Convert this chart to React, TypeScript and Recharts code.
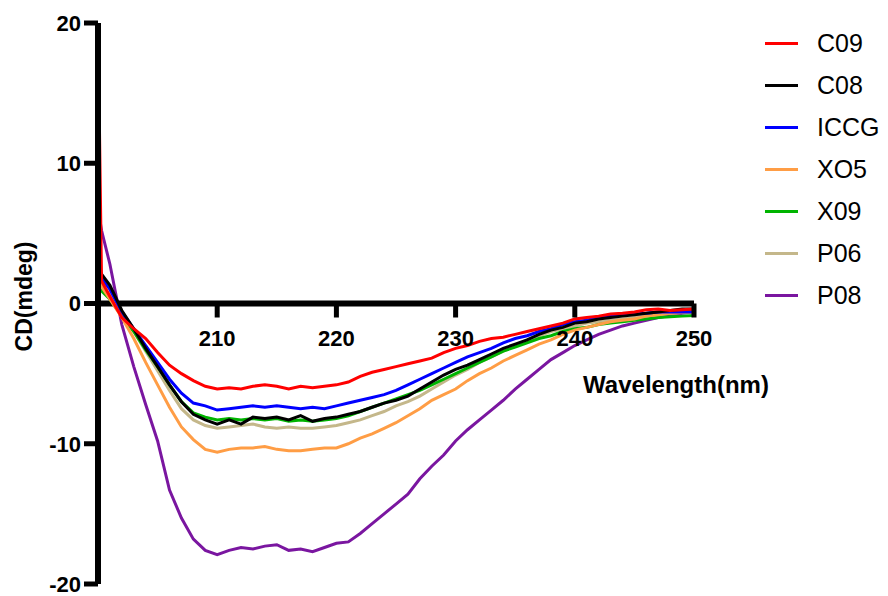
import React from "react";
import { LineChart, Line, XAxis, YAxis, ReferenceLine, Legend } from "recharts";

const WAVELENGTH = [
  200, 200.3, 201, 202, 203, 204, 205, 206, 207, 208, 209,
  210, 211, 212, 213, 214, 215, 216, 217, 218, 219,
  220, 221, 222, 223, 224, 225, 226, 227, 228, 229,
  230, 231, 232, 233, 234, 235, 236, 237, 238, 239,
  240, 241, 242, 243, 244, 245, 246, 247, 248, 249, 250,
];

const C09 = [
  20, 1.6, 0.5, -1.0, -1.8, -2.5, -3.5, -4.4, -5.0, -5.5, -5.9,
  -6.1, -6.0, -6.1, -5.9, -5.8, -5.9, -6.1, -5.9, -6.0, -5.9,
  -5.8, -5.6, -5.2, -4.9, -4.7, -4.5, -4.3, -4.1, -3.9, -3.5,
  -3.2, -3.0, -2.7, -2.5, -2.4, -2.2, -2.0, -1.8, -1.6, -1.4,
  -1.1, -1.0, -0.9, -0.75, -0.7, -0.6, -0.45, -0.4, -0.5, -0.45, -0.4,
];
const C08 = [
  2.6, 2.1, 1.3, -0.5, -1.8, -3.2, -4.5, -5.8, -7.0, -7.9, -8.3,
  -8.6, -8.3, -8.6, -8.1, -8.2, -8.1, -8.3, -8.0, -8.4, -8.2,
  -8.1, -7.9, -7.7, -7.4, -7.1, -6.9, -6.6, -6.1, -5.6, -5.1,
  -4.7, -4.4, -4.0, -3.6, -3.2, -2.9, -2.6, -2.2, -1.9, -1.7,
  -1.4, -1.3, -1.1, -1.0, -0.9, -0.8, -0.7, -0.6, -0.5, -0.4, -0.4,
];
const ICCG = [
  2.1, 1.8, 1.0, -0.6, -1.8, -3.0, -4.2, -5.4, -6.4, -7.1, -7.3,
  -7.6, -7.5, -7.4, -7.3, -7.4, -7.3, -7.4, -7.5, -7.4, -7.5,
  -7.3, -7.1, -6.9, -6.7, -6.5, -6.2, -5.8, -5.4, -5.0, -4.6,
  -4.2, -3.8, -3.5, -3.2, -2.8, -2.5, -2.3, -2.0, -1.8, -1.5,
  -1.3, -1.2, -1.0, -0.9, -0.8, -0.75, -0.7, -0.6, -0.6, -0.6, -0.6,
];
const XO5 = [
  1.5, 1.2, 0.3, -1.0, -2.5, -4.2, -5.8, -7.4, -8.8, -9.7, -10.4,
  -10.6, -10.4, -10.3, -10.3, -10.2, -10.4, -10.5, -10.5, -10.4, -10.3,
  -10.3, -10.0, -9.6, -9.3, -8.9, -8.5, -8.0, -7.5, -6.9, -6.5,
  -6.1, -5.5, -5.0, -4.6, -4.1, -3.7, -3.3, -2.9, -2.6, -2.2,
  -1.9, -1.7, -1.5, -1.3, -1.2, -1.1, -0.9, -0.8, -0.7, -0.65, -0.6,
];
const X09 = [
  1.2, 0.9, 0.3, -0.9, -2.0, -3.3, -4.5, -5.8, -7.0, -7.8, -8.1,
  -8.3, -8.2, -8.3, -8.2, -8.3, -8.2, -8.4, -8.3, -8.4, -8.3,
  -8.2, -8.0, -7.7, -7.4, -7.1, -6.8, -6.5, -6.2, -5.8, -5.4,
  -5.0, -4.6, -4.2, -3.8, -3.4, -3.1, -2.8, -2.5, -2.3, -2.0,
  -1.8, -1.7, -1.5, -1.4, -1.3, -1.2, -1.1, -1.0, -0.95, -0.9, -0.85,
];
const P06 = [
  1.8, 1.4, 0.6, -0.8, -2.0, -3.4, -4.8, -6.2, -7.5, -8.3, -8.7,
  -8.9, -8.8, -8.7, -8.6, -8.8, -8.9, -8.8, -8.9, -8.9, -8.8,
  -8.7, -8.5, -8.3, -8.0, -7.7, -7.3, -7.0, -6.6, -6.1, -5.6,
  -5.1, -4.7, -4.2, -3.8, -3.4, -3.0, -2.6, -2.3, -2.0, -1.8,
  -1.6, -1.4, -1.3, -1.2, -1.1, -1.0, -0.9, -0.8, -0.7, -0.65, -0.6,
];
const P08 = [
  6.8, 5.2, 2.8, -1.5, -4.5, -7.2, -9.8, -13.3, -15.3, -16.8, -17.6,
  -17.9, -17.6, -17.4, -17.5, -17.3, -17.2, -17.6, -17.5, -17.7, -17.4,
  -17.1, -17.0, -16.4, -15.7, -15.0, -14.3, -13.6, -12.5, -11.6, -10.8,
  -9.8, -9.0, -8.3, -7.6, -6.9, -6.1, -5.4, -4.7, -4.0, -3.5,
  -3.0, -2.6, -2.2, -1.9, -1.6, -1.4, -1.2, -1.0, -0.85, -0.7, -0.6,
];

const SERIES_NAMES = ["C09", "C08", "ICCG", "XO5", "X09", "P06", "P08"];
const SERIES_VALUES = [C09, C08, ICCG, XO5, X09, P06, P08];
const SERIES_COLORS = ["#ff0000", "#000000", "#0000ff", "#ff9d45", "#00b400", "#c4b78a", "#7a16a0"];

const X_TICKS = [210, 220, 230, 240, 250];
const Y_TICKS = [-20, -10, 0, 10, 20];

const data = WAVELENGTH.map((wl, i) => {
  const row: Record<string, number> = { wl };
  SERIES_NAMES.forEach((n, k) => {
    row[n] = SERIES_VALUES[k][i];
  });
  return row;
});

const W = 888;
const H = 596;
const Y_AXIS_W = 98;
const X_AXIS_H = 12;
const MARGIN = { top: 23, right: 194, bottom: 0, left: 0 };
const PLOT_H = H - MARGIN.top - MARGIN.bottom - X_AXIS_H;
const FONT = "'Liberation Sans', Arial, sans-serif";

const XTick = (props: any) => {
  const { x, y, payload } = props;
  const y0 = y - PLOT_H / 2;
  return (
    <g>
      <line x1={x} x2={x} y1={y0} y2={y0 + 14} stroke="#000" strokeWidth={5} />
      <text
        x={x}
        y={y0 + 42}
        textAnchor="middle"
        fontFamily={FONT}
        fontSize={22}
        fontWeight="bold"
        fill="#000"
      >
        {payload.value}
      </text>
    </g>
  );
};

const XLabel = (props: any) => {
  const vb = props.viewBox || { x: 0, y: 0, width: 0 };
  const y0 = vb.y - PLOT_H / 2;
  return (
    <text
      x={vb.x + vb.width - 18}
      y={y0 + 89}
      textAnchor="middle"
      fontFamily={FONT}
      fontSize={24}
      fontWeight="bold"
      fill="#000"
    >
      Wavelength(nm)
    </text>
  );
};

const YLabel = (props: any) => {
  const vb = props.viewBox || { x: 0, y: 0, width: 0, height: 0 };
  const cx = vb.x + vb.width - 74;
  const cy = vb.y + vb.height / 2 - 7;
  return (
    <text
      x={cx}
      y={cy}
      transform={`rotate(-90, ${cx}, ${cy})`}
      textAnchor="middle"
      dominantBaseline="central"
      fontFamily={FONT}
      fontSize={23}
      fontWeight="bold"
      fill="#000"
    >
      CD(mdeg)
    </text>
  );
};

const LegendContent = (props: any) => {
  const payload = props.payload || [];
  const colorOf: Record<string, string> = {};
  payload.forEach((p: any) => {
    colorOf[p.value] = p.color;
  });
  return (
    <div style={{ fontFamily: FONT, fontSize: 25, color: "#000" }}>
      {SERIES_NAMES.map((n, k) => (
        <div key={n} style={{ display: "flex", alignItems: "center", height: 42 }}>
          <div
            style={{
              width: 33,
              height: 3,
              background: colorOf[n] || SERIES_COLORS[k],
              marginRight: 19,
            }}
          />
          <span>{n}</span>
        </div>
      ))}
    </div>
  );
};

export default function App() {
  const order = SERIES_NAMES.map((n, k) => k).reverse();
  return (
    <div style={{ position: "absolute", left: 0, top: 0, width: W, height: H, background: "#fff" }}>
      <LineChart width={W} height={H} data={data} margin={MARGIN}>
        <ReferenceLine y={0} stroke="#000" strokeWidth={6} />
        <XAxis
          dataKey="wl"
          type="number"
          domain={[200, 250]}
          ticks={X_TICKS}
          interval={0}
          height={X_AXIS_H}
          axisLine={false}
          tickLine={false}
          tickSize={0}
          tickMargin={0}
          tick={<XTick />}
          label={<XLabel />}
        />
        <YAxis
          type="number"
          domain={[-20, 20]}
          ticks={Y_TICKS}
          interval={0}
          allowDataOverflow
          width={Y_AXIS_W}
          axisLine={{ stroke: "#000", strokeWidth: 6 }}
          tickLine={{ stroke: "#000", strokeWidth: 5 }}
          tickSize={14}
          tickMargin={3}
          tick={{ fill: "#000", fontSize: 22, fontWeight: "bold", fontFamily: FONT }}
          label={<YLabel />}
        />
        {order.map((k) => (
          <Line
            key={SERIES_NAMES[k]}
            type="linear"
            dataKey={SERIES_NAMES[k]}
            name={SERIES_NAMES[k]}
            stroke={SERIES_COLORS[k]}
            strokeWidth={3}
            dot={false}
            activeDot={false}
            isAnimationActive={false}
          />
        ))}
        <Legend
          layout="horizontal"
          verticalAlign="middle"
          align="center"
          wrapperStyle={{ left: 765, top: 22, width: 123 }}
          content={<LegendContent />}
        />
      </LineChart>
    </div>
  );
}
